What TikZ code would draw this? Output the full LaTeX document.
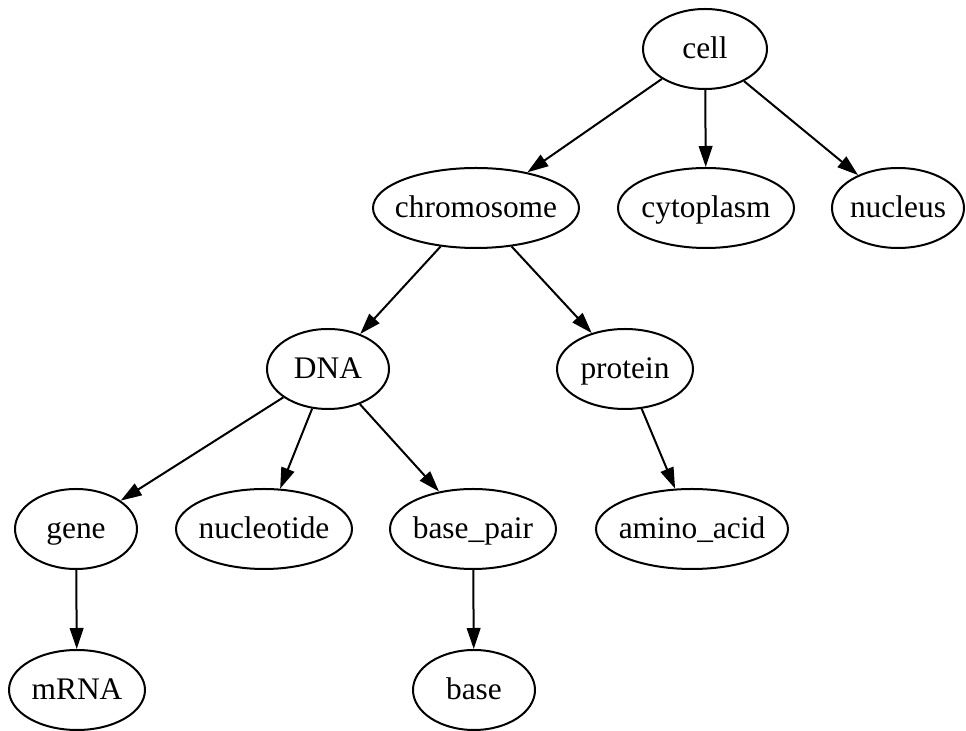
\documentclass[tikz,border=0pt]{standalone}
\usepackage{fontspec}
\setmainfont{Liberation Serif}
\usetikzlibrary{shapes.geometric,arrows.meta}
% label of zero width, so that only the minimum size fixes each ellipse
\newcommand\lbl[1]{\makebox[0pt]{#1}}
\begin{document}
\begin{tikzpicture}[x=0.5pt,y=-0.5pt,
  ell/.style={ellipse, draw, line width=1pt, inner sep=0pt,
              minimum height=40pt, text height=12pt, text depth=2.5pt,
              font=\fontsize{15.7}{18}\selectfont},
  edge/.style={line width=1pt, -{Triangle[length=10.5pt,width=6.8pt]}}]
\useasboundingbox (0,0) rectangle (966,731);

% level 0
\node[ell, minimum width=62pt]  (cell)       at (705,49)  {\lbl{cell}};
% level 1
\node[ell, minimum width=103pt] (chromosome) at (476,208) {\lbl{chromosome}};
\node[ell, minimum width=88pt]  (cytoplasm)  at (706,208) {\lbl{cytoplasm}};
\node[ell, minimum width=66pt]  (nucleus)    at (898,208) {\lbl{nucleus}};
% level 2
\node[ell, minimum width=61pt]  (DNA)        at (328,369) {\lbl{DNA}};
\node[ell, minimum width=68pt]  (protein)    at (625,369) {\lbl{protein}};
% level 3
\node[ell, minimum width=61pt]  (gene)       at (76,529)  {\lbl{gene}};
\node[ell, minimum width=88pt]  (nucleotide) at (264,529) {\lbl{nucleotide}};
\node[ell, minimum width=83pt]  (basepair)   at (473,529) {\lbl{base\_pair}};
\node[ell, minimum width=96pt]  (aminoacid)  at (692,529) {\lbl{amino\_acid}};
% level 4
\node[ell, minimum width=68pt]  (mRNA)       at (77,690)  {\lbl{mRNA}};
\node[ell, minimum width=61pt]  (base)       at (474,690) {\lbl{base}};

\draw[edge] (cell) -- (chromosome);
\draw[edge] (cell) -- (cytoplasm);
\draw[edge] (cell) -- (nucleus);
\draw[edge] (chromosome) -- (DNA);
\draw[edge] (chromosome) -- (protein);
\draw[edge] (DNA) -- (gene);
\draw[edge] (DNA) -- (nucleotide);
\draw[edge] (DNA) -- (basepair);
\draw[edge] (protein) -- (aminoacid);
\draw[edge] (gene) -- (mRNA);
\draw[edge] (basepair) -- (base);
\end{tikzpicture}
\end{document}
